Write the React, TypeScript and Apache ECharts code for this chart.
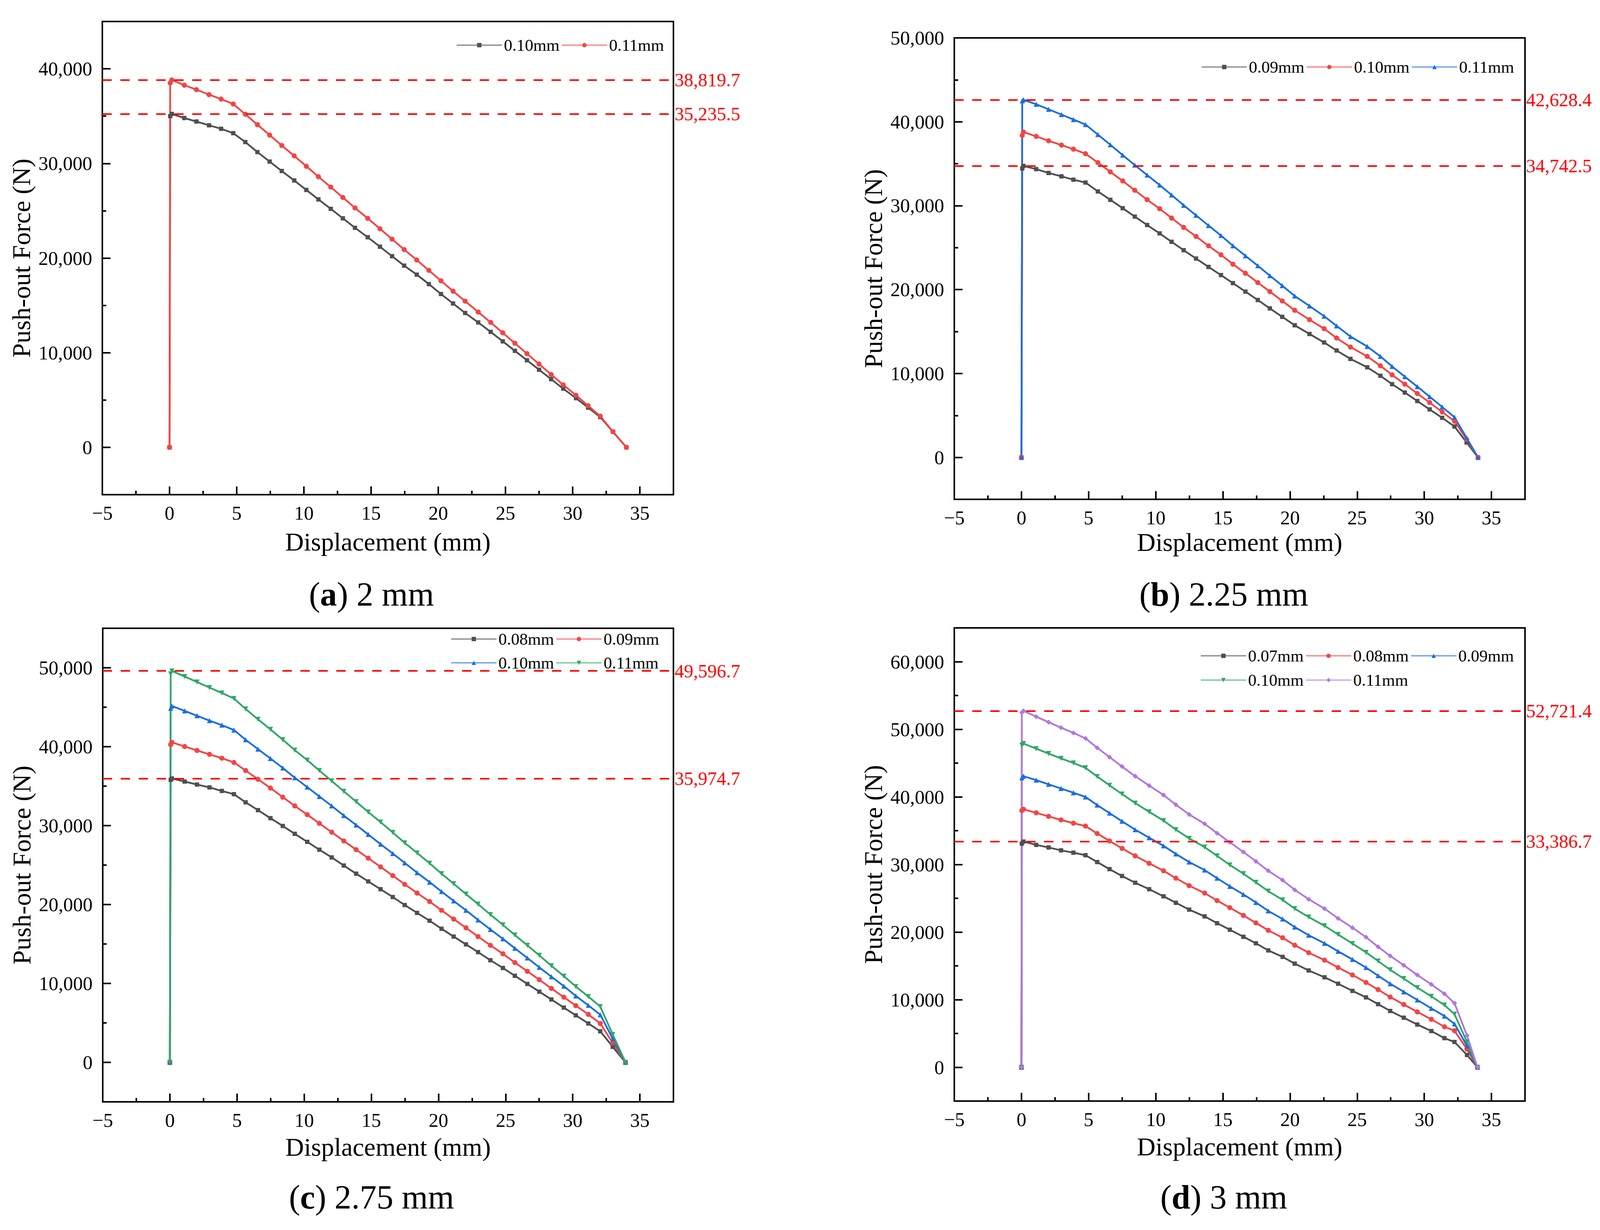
import React, { FC, useEffect, useRef } from "react";
import * as echarts from "echarts";

const FONT = "Liberation Serif";

// x ticks shared by all four panels
const xTicks = [-5, 0, 5, 10, 15, 20, 25, 30, 35];

// ---- (a) 2 mm ----
const xA = [0, 0.05, 0.17, 1.1, 2.0, 2.94, 3.84, 4.74, 5.64, 6.54, 7.45, 8.35, 9.28, 10.18, 11.08, 12.0, 12.9, 13.8, 14.75, 15.66, 16.56, 17.46, 18.4, 19.3, 20.2, 21.1, 22.0, 22.97, 23.9, 24.8, 25.7, 26.6, 27.5, 28.4, 29.3, 30.25, 31.15, 32.05, 33.0, 34.0];
const a010 = [0, 35000, 35235, 34800, 34430, 34030, 33660, 33200, 32260, 31200, 30200, 29200, 28200, 27200, 26200, 25200, 24200, 23200, 22200, 21200, 20200, 19200, 18250, 17250, 16200, 15200, 14200, 13200, 12200, 11200, 10200, 9200, 8200, 7200, 6200, 5200, 4200, 3200, 1650, 0];
const a011 = [0, 38500, 38820, 38270, 37800, 37270, 36800, 36280, 35200, 34100, 33000, 31900, 30800, 29700, 28600, 27500, 26400, 25300, 24200, 23100, 22000, 20900, 19800, 18700, 17600, 16500, 15450, 14300, 13200, 12100, 11000, 9900, 8800, 7700, 6600, 5500, 4400, 3300, 1650, 0];
const yTicksA = [0, 10000, 20000, 30000, 40000];
const refA = [38819.7, 35235.5];

// ---- (b) 2.25 mm ----
const xB = [0, 0.06, 0.15, 1.1, 2.02, 2.98, 3.87, 4.77, 5.69, 6.62, 7.54, 8.44, 9.36, 10.29, 11.18, 12.08, 13.0, 13.93, 14.86, 15.75, 16.68, 17.6, 18.5, 19.42, 20.35, 21.45, 22.54, 23.47, 24.5, 25.75, 26.73, 27.6, 28.55, 29.48, 30.4, 31.33, 32.25, 33.15, 34.0];
const b009 = [0, 34440, 34742, 34360, 33900, 33500, 33100, 32760, 31700, 30700, 29700, 28700, 27700, 26700, 25700, 24700, 23700, 22700, 21730, 20770, 19760, 18760, 17760, 16750, 15750, 14710, 13700, 12740, 11740, 10740, 9730, 8730, 7730, 6720, 5720, 4720, 3680, 1780, 0];
const b010 = [0, 38370, 38780, 38260, 37740, 37220, 36740, 36200, 35140, 34030, 32950, 31840, 30720, 29640, 28530, 27410, 26340, 25220, 24150, 23030, 21950, 20840, 19760, 18650, 17530, 16420, 15340, 14230, 13150, 12040, 10920, 9840, 8730, 7620, 6540, 5420, 4310, 2150, 0];
const b011 = [0, 42500, 42628, 42090, 41490, 40860, 40270, 39670, 38480, 37260, 36030, 34840, 33650, 32470, 31280, 30050, 28860, 27640, 26450, 25220, 24030, 22850, 21660, 20470, 19240, 18050, 16830, 15680, 14410, 13220, 12040, 10850, 9620, 8430, 7240, 6020, 4790, 2340, 0];
const yTicksB = [0, 10000, 20000, 30000, 40000, 50000];
const refB = [42628.4, 34742.5];

// ---- (c) 2.75 mm ----
const xC = [0, 0.06, 0.15, 1.1, 2.02, 2.95, 3.87, 4.77, 5.64, 6.56, 7.49, 8.41, 9.3, 10.23, 11.13, 12.05, 12.95, 13.87, 14.77, 15.69, 16.6, 17.49, 18.41, 19.34, 20.23, 21.13, 22.05, 22.95, 23.87, 24.8, 25.69, 26.62, 27.51, 28.41, 29.34, 30.23, 31.16, 32.05, 32.98, 33.93];
const c008 = [0, 35800, 35975, 35580, 35200, 34840, 34390, 33980, 32950, 31960, 30940, 29950, 28960, 27940, 26950, 25970, 24940, 23910, 22930, 21940, 20950, 19930, 18940, 17950, 16930, 15940, 14950, 13970, 12940, 11960, 10970, 9940, 8960, 7970, 6940, 5960, 4930, 3940, 1970, 0];
const c009 = [0, 40260, 40550, 40020, 39520, 39030, 38540, 38000, 36980, 35870, 34760, 33600, 32500, 31390, 30280, 29170, 28060, 26950, 25880, 24770, 23660, 22560, 21450, 20380, 19270, 18160, 17050, 15940, 14830, 13760, 12650, 11540, 10480, 9370, 8260, 7190, 6080, 4930, 2470, 0];
const c010 = [0, 44860, 45150, 44540, 43920, 43300, 42730, 42110, 40880, 39690, 38500, 37300, 36070, 34880, 33690, 32500, 31270, 30070, 28880, 27650, 26460, 25270, 24030, 22840, 21650, 20460, 19270, 18040, 16840, 15650, 14460, 13230, 12040, 10850, 9650, 8420, 7230, 6040, 3000, 0];
const c011 = [0, 49220, 49597, 48890, 48190, 47490, 46800, 46100, 44780, 43470, 42190, 40880, 39560, 38290, 36980, 35660, 34350, 33030, 31720, 30440, 29130, 27810, 26540, 25230, 23910, 22640, 21320, 20050, 18730, 17420, 16140, 14830, 13560, 12240, 10930, 9610, 8340, 7070, 3530, 0];
const yTicksC = [0, 10000, 20000, 30000, 40000, 50000];
const refC = [49596.7, 35974.7];

// ---- (d) 3 mm ----
const xD = [0, 0.03, 0.15, 1.1, 2.02, 2.95, 3.87, 4.77, 5.64, 6.56, 7.49, 8.47, 9.51, 10.58, 11.5, 12.49, 13.64, 14.57, 15.52, 16.53, 17.46, 18.38, 19.45, 20.35, 21.39, 22.57, 23.58, 24.65, 25.66, 26.56, 27.46, 28.47, 29.48, 30.52, 31.5, 32.25, 33.18, 33.96];
const d007 = [0, 33090, 33387, 32900, 32520, 32090, 31750, 31370, 30360, 29310, 28300, 27300, 26340, 25290, 24330, 23320, 22320, 21310, 20350, 19300, 18340, 17290, 16330, 15330, 14320, 13310, 12360, 11300, 10340, 9340, 8330, 7330, 6320, 5360, 4310, 3740, 1820, 0];
const d008 = [0, 37980, 38170, 37640, 37120, 36590, 36110, 35680, 34580, 33480, 32380, 31270, 30170, 29070, 27970, 26870, 25770, 24660, 23610, 22460, 21360, 20260, 19160, 18060, 16950, 15850, 14750, 13650, 12550, 11490, 10390, 9290, 8190, 7090, 5990, 5410, 2680, 0];
const d009 = [0, 42820, 43060, 42480, 41860, 41240, 40610, 39990, 38790, 37600, 36400, 35150, 33960, 32760, 31560, 30360, 29170, 27970, 26770, 25570, 24380, 23130, 21930, 20740, 19540, 18340, 17150, 15950, 14750, 13550, 12360, 11160, 9960, 8720, 7570, 6420, 3160, 0];
const d010 = [0, 47650, 47890, 47130, 46410, 45690, 45020, 44300, 43010, 41710, 40420, 39080, 37790, 36490, 35150, 33860, 32570, 31270, 29930, 28640, 27350, 26050, 24760, 23470, 22220, 20930, 19640, 18300, 17000, 15710, 14420, 13120, 11780, 10490, 9200, 7850, 3740, 0];
const d011 = [0, 52490, 52721, 51870, 51050, 50240, 49470, 48660, 47270, 45880, 44490, 43060, 41670, 40280, 38840, 37400, 36020, 34630, 33290, 31850, 30460, 29070, 27680, 26250, 24860, 23470, 22030, 20640, 19250, 17820, 16480, 15090, 13650, 12260, 10870, 9480, 4690, 0];
const yTicksD = [0, 10000, 20000, 30000, 40000, 50000, 60000];
const refD = [52721.4, 33386.7];

// marker style per gap size (Origin default order)
const STYLE = {
  gray: { color: "#4f4f4f", symbol: "rect", rotate: 0 },
  red: { color: "#f44444", symbol: "circle", rotate: 0 },
  blue: { color: "#1a6ee0", symbol: "triangle", rotate: 0 },
  green: { color: "#2fa866", symbol: "triangle", rotate: 180 },
  purple: { color: "#b376dd", symbol: "diamond", rotate: 0 },
};

const panels = [
  {
    key: "a", caption: "2 mm", pos: [0, 0],
    grid: { left: 262, top: 55, width: 1462, height: 1211 },
    yMax: 45000, yTicks: yTicksA, refs: refA, nameGap: 87, cap: [951, 1521],
    x: xA,
    lines: [
      { name: "0.10mm", y: a010, s: STYLE.gray },
      { name: "0.11mm", y: a011, s: STYLE.red },
    ],
    legends: [{ names: ["0.10mm", "0.11mm"], left: 1168, top: 94 }],
  },
  {
    key: "b", caption: "2.25 mm", pos: [2057, 0],
    grid: { left: 386, top: 97, width: 1461, height: 1181 },
    yMax: 50000, yTicks: yTicksB, refs: refB, nameGap: 75, cap: [1076, 1521],
    x: xB,
    lines: [
      { name: "0.09mm", y: b009, s: STYLE.gray },
      { name: "0.10mm", y: b010, s: STYLE.red },
      { name: "0.11mm", y: b011, s: STYLE.blue },
    ],
    legends: [{ names: ["0.09mm", "0.10mm", "0.11mm"], left: 1018, top: 150 }],
  },
  {
    key: "c", caption: "2.75 mm", pos: [0, 1574],
    grid: { left: 263, top: 34, width: 1461, height: 1212 },
    yMax: 55000, yTicks: yTicksC, refs: refC, nameGap: 82, cap: [951, 1490],
    x: xC,
    lines: [
      { name: "0.08mm", y: c008, s: STYLE.gray },
      { name: "0.09mm", y: c009, s: STYLE.red },
      { name: "0.10mm", y: c010, s: STYLE.blue },
      { name: "0.11mm", y: c011, s: STYLE.green },
    ],
    legends: [
      { names: ["0.08mm", "0.09mm"], left: 1154, top: 40 },
      { names: ["0.10mm", "0.11mm"], left: 1154, top: 101 },
    ],
  },
  {
    key: "d", caption: "3 mm", pos: [2057, 1574],
    grid: { left: 386, top: 33, width: 1461, height: 1211 },
    yMax: 65000, yTicks: yTicksD, refs: refD, nameGap: 83, cap: [1076, 1490],
    x: xD,
    lines: [
      { name: "0.07mm", y: d007, s: STYLE.gray },
      { name: "0.08mm", y: d008, s: STYLE.red },
      { name: "0.09mm", y: d009, s: STYLE.blue },
      { name: "0.10mm", y: d010, s: STYLE.green },
      { name: "0.11mm", y: d011, s: STYLE.purple },
    ],
    legends: [
      { names: ["0.07mm", "0.08mm", "0.09mm"], left: 1016, top: 83 },
      { names: ["0.10mm", "0.11mm"], left: 1016, top: 145 },
    ],
  },
];

const fmtRef = (v: number) =>
  v.toLocaleString("en-US", { minimumFractionDigits: 1, maximumFractionDigits: 1 });

const buildOption = (p: any) => {
  const axisLine = { onZero: false, lineStyle: { color: "#000", width: 4 } };
  const tickLine = { color: "#000", width: 4 };
  const last = p.lines.length - 1;
  return {
    animation: false,
    backgroundColor: "#fff",
    grid: { ...p.grid, show: true, borderColor: "#000", borderWidth: 4, backgroundColor: "transparent" },
    legend: p.legends.map((l: any) => ({
      data: l.names,
      left: l.left,
      top: l.top,
      orient: "horizontal",
      padding: 0,
      itemGap: 5,
      itemWidth: 116,
      itemHeight: 14,
      selectedMode: false,
      textStyle: { fontFamily: FONT, fontSize: 43, color: "#000" },
    })),
    xAxis: [
      {
        type: "value", min: -5, max: 37.5, position: "bottom",
        axisLine,
        axisTick: { inside: true, length: 21, lineStyle: tickLine, customValues: xTicks },
        axisLabel: {
          customValues: xTicks, margin: 22, fontFamily: FONT, fontSize: 50, color: "#000",
          formatter: (v: number) => (v < 0 ? "\u2212" + Math.abs(v) : String(v)),
        },
        splitLine: { show: false },
        name: "Displacement (mm)", nameLocation: "middle", nameGap: p.nameGap,
        nameTextStyle: { fontFamily: FONT, fontSize: 66, color: "#000" },
      },
      {
        type: "value", min: -5, max: 37.5, interval: 2.5, position: "bottom",
        axisLine: { show: false, onZero: false },
        axisTick: { inside: true, length: 10, lineStyle: tickLine },
        axisLabel: { show: false },
        splitLine: { show: false },
      },
    ],
    yAxis: [
      {
        type: "value", min: -5000, max: p.yMax, position: "left",
        axisLine,
        axisTick: { inside: true, length: 21, lineStyle: tickLine, customValues: p.yTicks },
        axisLabel: {
          customValues: p.yTicks, margin: 26, fontFamily: FONT, fontSize: 50, color: "#000",
          formatter: (v: number) => v.toLocaleString("en-US"),
        },
        splitLine: { show: false },
        name: "Push-out Force (N)", nameLocation: "middle", nameGap: 169, nameRotate: 90,
        nameTextStyle: { fontFamily: FONT, fontSize: 66, color: "#000" },
      },
      {
        type: "value", min: -5000, max: p.yMax, interval: 5000, position: "left",
        axisLine: { show: false, onZero: false },
        axisTick: { inside: true, length: 10, lineStyle: tickLine },
        axisLabel: { show: false },
        splitLine: { show: false },
      },
    ],
    series: p.lines.map((l: any, i: number) => ({
      type: "line",
      name: l.name,
      xAxisIndex: 0,
      yAxisIndex: 0,
      data: p.x.map((x: number, j: number) => [x, l.y[j]]),
      symbol: l.s.symbol,
      symbolRotate: l.s.rotate,
      symbolSize: l.s.symbol === "rect" ? 11 : 13,
      showAllSymbol: true,
      color: l.s.color,
      lineStyle: { color: l.s.color, width: 4.5 },
      itemStyle: { color: l.s.color },
      emphasis: { disabled: true },
      markLine:
        i === last
          ? {
              silent: true,
              symbol: ["none", "none"],
              z: 10,
              lineStyle: { color: "#ff0000", type: [24, 22], width: 4 },
              label: {
                position: "end",
                distance: 3,
                color: "#ff0000",
                fontFamily: FONT,
                fontSize: 48,
                formatter: (q: any) => fmtRef(q.value),
              },
              emphasis: { disabled: true },
              data: p.refs.map((v: number) => ({ yAxis: v })),
            }
          : undefined,
    })),
    graphic: [
      {
        type: "text",
        x: p.cap[0],
        y: p.cap[1],
        style: {
          text: `{p|(}{b|${p.key}}{p|) ${p.caption}}`,
          align: "center",
          verticalAlign: "middle",
          rich: {
            p: { fontFamily: FONT, fontSize: 86, fill: "#000" },
            b: { fontFamily: FONT, fontSize: 86, fontWeight: "bold", fill: "#000" },
          },
        },
      },
    ],
  };
};

const Panel: FC<{ p: any }> = ({ p }) => {
  const ref = useRef<HTMLDivElement>(null);

  useEffect(() => {
    const chart = echarts.init(ref.current, null, { renderer: "svg" });
    chart.setOption(buildOption(p));
    return () => {
      chart.dispose();
    };
  }, []);

  return (
    <div
      ref={ref}
      style={{ position: "absolute", left: p.pos[0], top: p.pos[1], width: 2057, height: 1574 }}
    />
  );
};

const App: FC = () => {
  useEffect(() => {
    document.body.style.margin = "0";
  }, []);

  return (
    <div style={{ position: "relative", width: 4114, height: 3148, background: "#fff" }}>
      {panels.map((p) => (
        <Panel key={p.key} p={p} />
      ))}
    </div>
  );
};

export default App;
